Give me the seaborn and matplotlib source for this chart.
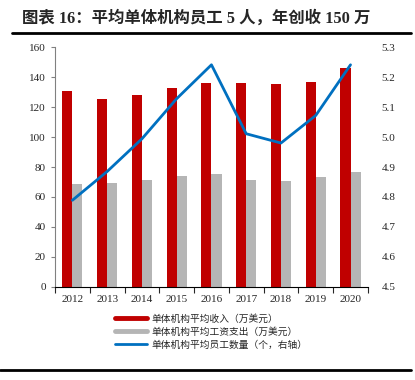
import numpy as np
import pandas as pd
import matplotlib
matplotlib.use('Agg')
import matplotlib.pyplot as plt
import seaborn as sns
from matplotlib.lines import Line2D

# data
years = ['2012', '2013', '2014', '2015', '2016', '2017', '2018', '2019', '2020']
revenue = [130.9, 125.6, 128.2, 132.4, 136.0, 136.2, 135.6, 136.9, 146.0]
wages = [68.7, 69.6, 71.1, 74.2, 75.6, 71.1, 70.9, 73.1, 76.9]
staff = [4.789, 4.885, 4.994, 5.128, 5.241, 5.011, 4.980, 5.072, 5.241]
series_names = ['单体机构平均收入（万美元）', '单体机构平均工资支出（万美元）', '单体机构平均员工数量（个，右轴）']

RED = '#C00000'
GRAY = '#B5B5B5'
BLUE = '#0070C0'

sns.set_style('white')
plt.rcParams['font.family'] = ['Liberation Serif', 'Noto Sans CJK SC']

df = pd.DataFrame({
    'year': years * 2,
    'value': revenue + wages,
    'series': [series_names[0]] * len(years) + [series_names[1]] * len(years),
})

fig = plt.figure(figsize=(4.15, 3.8), dpi=100)
ax = fig.add_axes([0.1325, 0.245, 0.754, 0.631])

sns.barplot(data=df, x='year', y='value', hue='series', order=years,
            palette=[RED, GRAY], width=0.58, gap=0, saturation=1,
            linewidth=0, legend=False, ax=ax)

ax2 = ax.twinx()
sns.lineplot(x=np.arange(len(years)), y=staff, color=BLUE, linewidth=2, ax=ax2)

ax.set_xlim(-0.5, len(years) - 0.5)
ax.set_ylim(0, 160)
ax.set_yticks(range(0, 161, 20))
ax2.set_ylim(4.5, 5.3)
ax2.set_yticks(np.arange(4.5, 5.31, 0.1))
ax2.set_yticklabels([f'{v:.1f}' for v in np.arange(4.5, 5.31, 0.1)])
ax.set_xlabel('')
ax.set_ylabel('')
ax2.set_ylabel('')

for spine in ['top', 'right']:
    ax.spines[spine].set_visible(False)
for spine in ['top', 'right', 'left', 'bottom']:
    ax2.spines[spine].set_visible(False)
ax.spines['left'].set_color('#808080')
ax.spines['bottom'].set_color('#000000')

ax.set_xticks(np.arange(len(years)))
ax.set_xticklabels(years)
ax.set_xticks(np.arange(-0.5, len(years)), minor=True)
ax.tick_params(axis='x', which='major', length=0, labelsize=8, pad=6)
ax.tick_params(axis='x', which='minor', length=4, width=0.8, direction='out', bottom=True)
ax.tick_params(axis='y', length=3, width=0.8, color='#808080', labelsize=8, left=True)
ax2.tick_params(axis='y', length=0, labelsize=8, pad=10)

handles = [Line2D([0], [0], color=RED, lw=3.5),
           Line2D([0], [0], color=GRAY, lw=3.5),
           Line2D([0], [0], color=BLUE, lw=2)]
leg = ax.legend(handles, series_names, loc='upper center', bbox_to_anchor=(0.5, -0.075),
                frameon=False, handlelength=3.2, handletextpad=0.5, labelspacing=0.3,
                prop={'family': ['Noto Sans CJK SC'], 'size': 7})

fig.text(0.053, 0.952, '图表 16：平均单体机构员工 5 人，年创收 150 万',
         fontsize=11.8, fontweight='bold', va='center',
         family=['Liberation Serif', 'Noto Sans CJK SC'])
fig.add_artist(Line2D([0.03, 0.99], [0.913, 0.913], color='black', lw=2))
fig.add_artist(Line2D([0.0, 0.99], [0.026, 0.026], color='black', lw=2))

fig.savefig('out.png', dpi=100)
